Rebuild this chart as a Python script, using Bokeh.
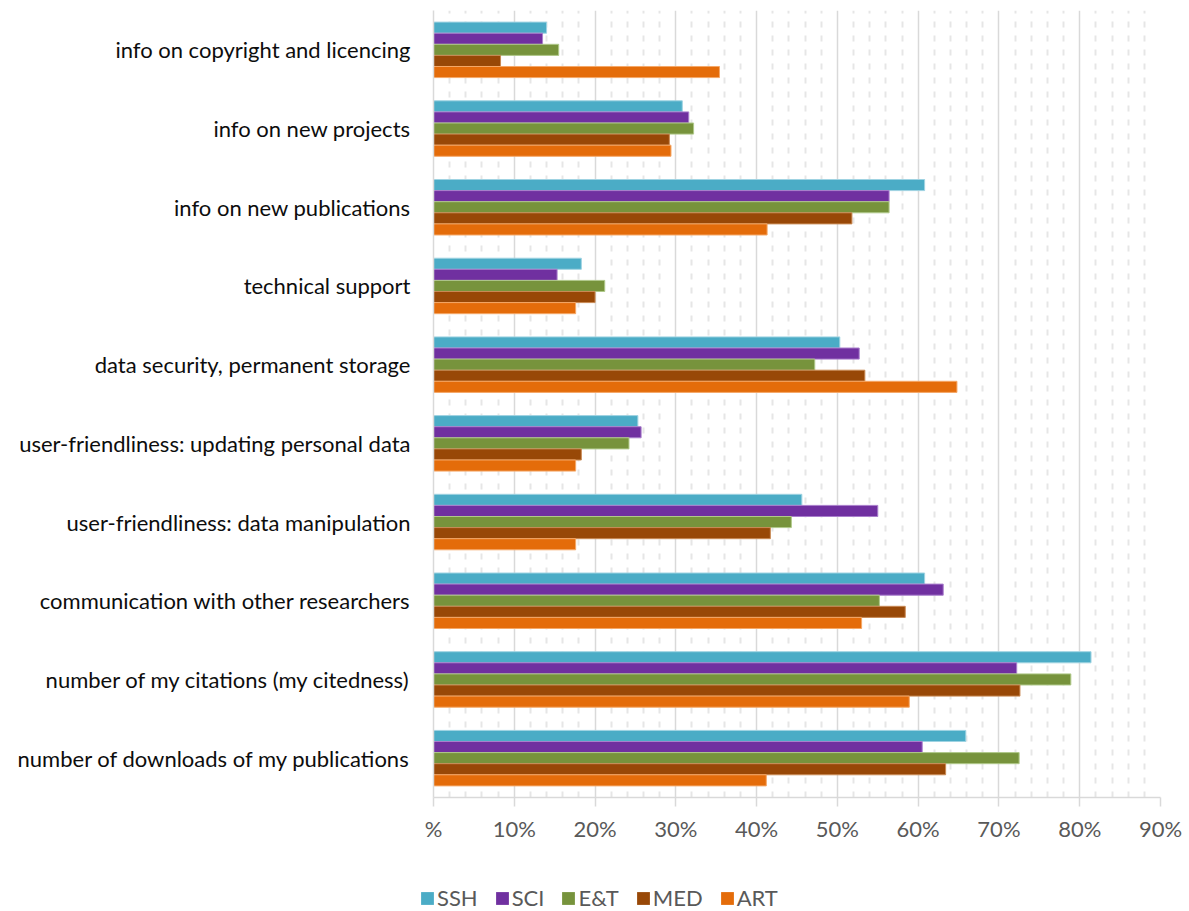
from bokeh.plotting import figure
from bokeh.layouts import column
from bokeh.models import (ColumnDataSource, FactorRange, Range1d, FixedTicker,
                          Legend, LegendItem)
from bokeh.transform import dodge
from bokeh.embed import file_html
from bokeh.resources import INLINE

categories = [
    "info on copyright and licencing",
    "info on new projects",
    "info on new publications",
    "technical support",
    "data security, permanent storage",
    "user-friendliness: updating personal data",
    "user-friendliness: data manipulation",
    "communication with other researchers",
    "number of my citations (my citedness)",
    "number of downloads of my publications",
]
series_names = ["SSH", "SCI", "E&T", "MED", "ART"]
SSH = [14.0, 30.8, 60.8, 18.3, 50.3, 25.3, 45.6, 60.8, 81.4, 65.9]
SCI = [13.5, 31.6, 56.4, 15.3, 52.7, 25.7, 55.0, 63.1, 72.2, 60.5]
ET  = [15.5, 32.2, 56.4, 21.2, 47.2, 24.2, 44.3, 55.2, 78.9, 72.5]
MED = [8.3, 29.2, 51.8, 20.0, 53.4, 18.3, 41.7, 58.4, 72.6, 63.4]
ART = [35.4, 29.4, 41.3, 17.6, 64.8, 17.6, 17.6, 53.0, 58.9, 41.2]
x_ticks = [0, 10, 20, 30, 40, 50, 60, 70, 80, 90]
x_tick_labels = ["%", "10%", "20%", "30%", "40%", "50%", "60%", "70%", "80%", "90%"]
minor_ticks = [v for v in range(0, 91, 2) if v % 10 != 0]

colors = ["#4BACC6", "#7030A0", "#77933C", "#984807", "#E46C0A"]
edges = ["#9fd3e2", "#a97fcc", "#b0c98a", "#c98a55", "#f5a868"]
values = [SSH, SCI, ET, MED, ART]

FONT = "Lato"
W = 1189
MAIN_H, LEG_H = 885, 26

p = figure(width=W, height=MAIN_H, output_backend="svg", toolbar_location=None,
           y_range=FactorRange(factors=list(reversed(categories)), range_padding=0),
           x_range=Range1d(0, 90),
           min_border_left=433, min_border_right=29,
           min_border_top=10, min_border_bottom=MAIN_H - 797)
p.outline_line_color = None
p.background_fill_color = "white"
p.border_fill_color = "white"

bar_h = 0.141
offsets = [2 * bar_h, bar_h, 0, -bar_h, -2 * bar_h]
for name, vals, c, e, off in zip(series_names, values, colors, edges, offsets):
    src = ColumnDataSource(dict(cat=categories, val=vals))
    p.hbar(y=dodge("cat", off, range=p.y_range), right="val", left=0,
           height=bar_h, source=src, fill_color=c, line_color=e, line_width=1)

# x axis
xa = p.xaxis[0]
xa.ticker = FixedTicker(ticks=x_ticks, minor_ticks=minor_ticks)
xa.major_label_overrides = {t: l for t, l in zip(x_ticks, x_tick_labels)}
xa.axis_line_color = "#d9d9d9"
xa.axis_line_width = 1.5
xa.major_tick_line_color = "#d9d9d9"
xa.major_tick_line_width = 1.5
xa.major_tick_out = 9
xa.major_tick_in = 0
xa.minor_tick_out = 0
xa.minor_tick_in = 0
xa.major_label_standoff = 8
xa.major_label_text_font = FONT
xa.major_label_text_font_size = "22px"
xa.major_label_text_color = "#595959"

# y axis
ya = p.yaxis[0]
ya.axis_line_color = "#d9d9d9"
ya.axis_line_width = 1.5
ya.major_tick_out = 0
ya.major_tick_in = 0
ya.minor_tick_out = 0
ya.major_label_standoff = 23
ya.major_label_text_font = FONT
ya.major_label_text_font_size = "22px"
ya.major_label_text_color = "#0d0d0d"

# grids
p.ygrid.grid_line_color = None
p.xgrid.grid_line_color = "#d9d9d9"
p.xgrid.grid_line_width = 1.5
p.xgrid.minor_grid_line_color = "#e6e6e6"
p.xgrid.minor_grid_line_width = 2
p.xgrid.minor_grid_line_dash = "6 8"

# legend strip
lf = figure(width=W, height=LEG_H, output_backend="svg", toolbar_location=None,
            x_axis_type=None, y_axis_type=None,
            x_range=Range1d(0, 1), y_range=Range1d(0, 1),
            min_border_left=0, min_border_right=0, min_border_top=0, min_border_bottom=0)
lf.frame_align = False
lf.outline_line_color = None
lf.grid.visible = False
items = []
for name, c in zip(series_names, colors):
    r = lf.quad(left=[-5], right=[-4], bottom=[-5], top=[-4], fill_color=c, line_color=None)
    items.append(LegendItem(label=name, renderers=[r]))
legend = Legend(items=items, orientation="horizontal", location=(419, 0),
                label_text_font=FONT, label_text_font_size="22px",
                label_text_color="#595959", glyph_width=16, glyph_height=16,
                label_standoff=2, spacing=16, padding=0, margin=0,
                border_line_color=None, background_fill_alpha=0)
lf.add_layout(legend, "center")

layout = column(p, lf, spacing=0)
open("out.html", "w").write(file_html(layout, INLINE))
